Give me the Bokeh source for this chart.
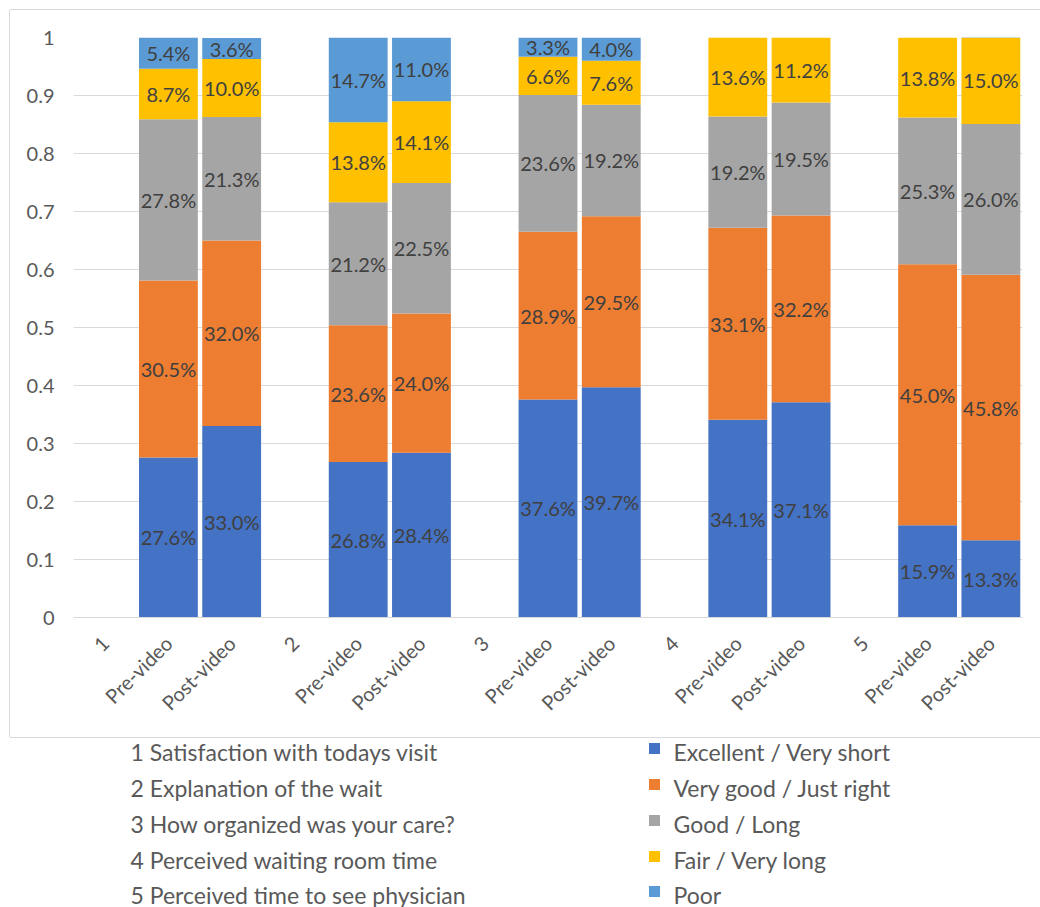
import numpy as np
from bokeh.plotting import figure
from bokeh.models import ColumnDataSource, Range1d, FixedTicker, NumeralTickFormatter, Spacer
from bokeh.layouts import column, row
from bokeh.core.properties import value
from bokeh.embed import file_html
from bokeh.resources import INLINE

# ---------------- data ----------------
question_ids = ["1", "2", "3", "4", "5"]
questions = [
    "1 Satisfaction with todays visit",
    "2 Explanation of the wait",
    "3 How organized was your care?",
    "4 Perceived waiting room time",
    "5 Perceived time to see physician",
]
phases = ["Pre-video", "Post-video"]
series_names = ["Excellent / Very short", "Very good / Just right", "Good / Long",
                "Fair  / Very long", "Poor"]

excellent_pre = [27.6, 26.8, 37.6, 34.1, 15.9]
excellent_post = [33.0, 28.4, 39.7, 37.1, 13.3]
verygood_pre = [30.5, 23.6, 28.9, 33.1, 45.0]
verygood_post = [32.0, 24.0, 29.5, 32.2, 45.8]
good_pre = [27.8, 21.2, 23.6, 19.2, 25.3]
good_post = [21.3, 22.5, 19.2, 19.5, 26.0]
fair_pre = [8.7, 13.8, 6.6, 13.6, 13.8]
fair_post = [10.0, 14.1, 7.6, 11.2, 15.0]
poor_pre = [5.4, 14.7, 3.3, 0.0, 0.0]
poor_post = [3.6, 11.0, 4.0, 0.0, 0.0]

y_ticks = [0, 0.1, 0.2, 0.3, 0.4, 0.5, 0.6, 0.7, 0.8, 0.9, 1.0]

colors = ["#4472C4", "#ED7D31", "#A5A5A5", "#FFC000", "#5B9BD5"]
FONT = "Lato"
LABEL_COLOR = "#404040"
AXIS_COLOR = "#595959"

series_pre = [excellent_pre, verygood_pre, good_pre, fair_pre, poor_pre]
series_post = [excellent_post, verygood_post, good_post, fair_post, poor_post]

# category slots: number, Pre-video, Post-video for each question
n_groups = len(question_ids)
tick_pos = list(range(3 * n_groups))
tick_labels = {}
for g, q in enumerate(question_ids):
    tick_labels[3 * g] = q
    tick_labels[3 * g + 1] = phases[0]
    tick_labels[3 * g + 2] = phases[1]

x_bars = []
for g in range(n_groups):
    x_bars += [3 * g + 1, 3 * g + 2]
x_bars = np.array(x_bars, dtype=float)

# ---------------- main chart ----------------
p = figure(width=1030, height=727, x_range=Range1d(-0.5, 14.5), y_range=Range1d(0, 1),
           output_backend="svg", toolbar_location=None,
           min_border_left=63, min_border_right=18, min_border_top=27, min_border_bottom=120)
p.outline_line_color = None
p.border_fill_color = "white"
p.background_fill_color = "white"
p.xgrid.grid_line_color = None
p.ygrid.grid_line_color = "#d9d9d9"
p.ygrid.grid_line_width = 1
p.ygrid.ticker = FixedTicker(ticks=y_ticks)

p.yaxis.ticker = FixedTicker(ticks=y_ticks)
p.yaxis.formatter = NumeralTickFormatter(format="0.[0]")
p.yaxis.axis_line_color = None
p.yaxis.major_tick_line_color = None
p.yaxis.minor_tick_line_color = None
p.yaxis.major_label_standoff = 13
p.yaxis.major_label_text_font = FONT
p.yaxis.major_label_text_font_size = "20px"
p.yaxis.major_label_text_color = AXIS_COLOR

p.xaxis.ticker = FixedTicker(ticks=tick_pos)
p.xaxis.major_label_overrides = tick_labels
p.xaxis.major_label_orientation = np.pi / 4
p.xaxis.axis_line_color = "#d9d9d9"
p.xaxis.major_tick_line_color = None
p.xaxis.minor_tick_line_color = None
p.xaxis.major_label_standoff = 16
p.xaxis.major_label_text_font = FONT
p.xaxis.major_label_text_font_size = "20px"
p.xaxis.major_label_text_color = AXIS_COLOR

bottom = np.zeros(len(x_bars))
lab_x, lab_y, lab_t = [], [], []
for name, pre, post, col in zip(series_names, series_pre, series_post, colors):
    vals = []
    for a, b in zip(pre, post):
        vals += [a, b]
    vals = np.array(vals) / 100.0
    top = bottom + vals
    src = ColumnDataSource(dict(x=x_bars, bottom=bottom.copy(), top=top.copy()))
    p.vbar(x="x", bottom="bottom", top="top", width=0.93, source=src,
           fill_color=col, line_color=None)
    for xi, b0, v in zip(x_bars, bottom, vals):
        if v > 0:
            lab_x.append(xi)
            lab_y.append(b0 + v / 2)
            lab_t.append(f"{v * 100:.1f}%")
    bottom = top

lab_src = ColumnDataSource(dict(x=lab_x, y=lab_y, t=lab_t))
p.text(x="x", y="y", text="t", source=lab_src, text_align="center", text_baseline="middle",
       text_font=value(FONT), text_font_size="20px", text_color=LABEL_COLOR)

p.styles = {"box-shadow": "-1px 0 0 0 #d9d9d9, 0 -1px 0 0 #d9d9d9, 0 1px 0 0 #d9d9d9"}

# ---------------- legend area ----------------
leg = figure(width=1040, height=170, x_range=Range1d(0, 1040), y_range=Range1d(170, 0),
             output_backend="svg", toolbar_location=None,
             x_axis_location=None, y_axis_location=None, min_border=0)
leg.outline_line_color = None
leg.grid.grid_line_color = None
leg.border_fill_color = None
leg.background_fill_color = None

row_y = [14, 50, 86, 122, 157]
leg.text(x=[130] * len(questions), y=row_y, text=questions, text_align="left",
         text_baseline="middle", text_font=value(FONT), text_font_size="23px",
         text_color=AXIS_COLOR)
leg.rect(x=[654] * len(series_names), y=[r - 3 for r in row_y], width=11, height=11,
         fill_color=colors, line_color=None)
leg.text(x=[673] * len(series_names), y=row_y, text=series_names, text_align="left",
         text_baseline="middle", text_font=value(FONT), text_font_size="23px",
         text_color=AXIS_COLOR)

layout = column(Spacer(width=1040, height=10),
                row(Spacer(width=10, height=727), p),
                leg)

open("out.html", "w").write(file_html(layout, INLINE))
